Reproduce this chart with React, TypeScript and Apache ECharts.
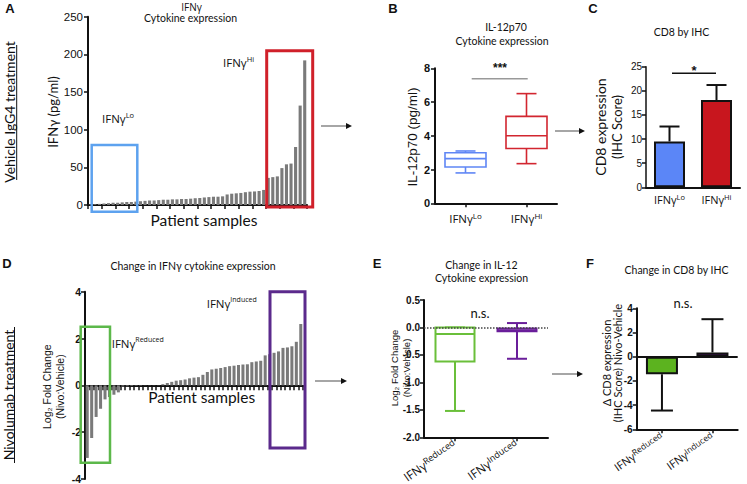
import React, { useEffect, useRef } from 'react';
import * as echarts from 'echarts';

// Panel A: IFNγ per patient (pg/ml), sorted
const aValues = [0.5, 1, 1.5, 2, 2.5, 3, 3, 3.5, 4, 4, 4.5, 5, 5.5, 6, 6, 6.5, 7, 7, 7.5, 7.5, 8, 8, 8.4, 9, 9.3, 10, 10.5, 11, 11, 11.5, 14, 15, 15.5, 16, 17, 17.7, 18, 18.6, 20, 36, 37, 38, 49, 54, 55, 77, 132, 192];
const aCategories = aValues.map((_, i) => 'P' + (i + 1));

// Panel B: IL-12p70 boxplots [min, q1, median, q3, max]
const bCategories = ['Lo', 'Hi'];
const bBoxLo = [1.8, 2.15, 2.65, 3.0, 3.1];
const bBoxHi = [2.35, 3.25, 4.0, 5.15, 6.5];

// Panel C: CD8 by IHC
const cCategories = ['Lo', 'Hi'];
const cMeans = [9.5, 18.1];
const cErrTop = [12.6, 21.2];

// Panel D: Log2 fold change per patient
const dValues = [-3.1, -2.25, -1.35, -1.0, -0.6, -0.5, -0.4, -0.3, -0.05, -0.04, -0.03, -0.02, -0.02, -0.01, -0.01, -0.01, -0.01,
  0.05, 0.1, 0.15, 0.2, 0.22, 0.25, 0.3, 0.33, 0.35, 0.45, 0.57, 0.68, 0.71, 0.74, 0.78, 0.82, 0.84, 0.87, 0.89, 0.9, 0.99, 1.02, 1.05, 1.28, 1.33, 1.39, 1.45, 1.6, 1.62, 1.67, 1.86, 2.62];
const dCategories = dValues.map((_, i) => 'S' + (i + 1));

// Panel E: IL-12 change boxplots [min, q1, median, q3, max]
const eCategories = ['Reduced', 'Induced'];
const eBoxReduced = [-1.52, -0.62, -0.12, 0, 0];
const eBoxInduced = [-0.57, -0.07, -0.05, -0.02, 0.08];

// Panel F: change in CD8
const fCategories = ['Reduced', 'Induced'];
const fMeans = [-1.45, 0.35];
const fErrEnd = [-4.45, 3.1];

const TICK_FONT = 'Liberation Sans';
const TEXT_FONT = 'Lato';
const GREEK_FONT = 'Open Sans';

function boxRender(colors: string[], boxW: number, capW: number, lw: number) {
  return (params: any, api: any) => {
    const i = api.value(0);
    const mn = api.coord([i, api.value(1)]);
    const q1 = api.coord([i, api.value(2)]);
    const md = api.coord([i, api.value(3)]);
    const q3 = api.coord([i, api.value(4)]);
    const mx = api.coord([i, api.value(5)]);
    const x = mn[0];
    const c = colors[params.dataIndex];
    const st = { stroke: c, lineWidth: lw, fill: 'none' };
    return {
      type: 'group',
      children: [
        { type: 'line', shape: { x1: x, y1: q3[1], x2: x, y2: mx[1] }, style: st },
        { type: 'line', shape: { x1: x, y1: q1[1], x2: x, y2: mn[1] }, style: st },
        { type: 'line', shape: { x1: x - capW / 2, y1: mx[1], x2: x + capW / 2, y2: mx[1] }, style: st },
        { type: 'line', shape: { x1: x - capW / 2, y1: mn[1], x2: x + capW / 2, y2: mn[1] }, style: st },
        { type: 'rect', shape: { x: x - boxW / 2, y: q3[1], width: boxW, height: q1[1] - q3[1] }, style: { stroke: c, lineWidth: lw, fill: '#fff' } },
        { type: 'line', shape: { x1: x - boxW / 2, y1: md[1], x2: x + boxW / 2, y2: md[1] }, style: st },
      ],
    };
  };
}

function errRender(capW: number) {
  return (params: any, api: any) => {
    const i = api.value(0);
    const a = api.coord([i, api.value(1)]);
    const b = api.coord([i, api.value(2)]);
    const st = { stroke: '#111', lineWidth: 2, fill: 'none' };
    return {
      type: 'group',
      children: [
        { type: 'line', shape: { x1: a[0], y1: a[1], x2: b[0], y2: b[1] }, style: st },
        { type: 'line', shape: { x1: b[0] - capW / 2, y1: b[1], x2: b[0] + capW / 2, y2: b[1] }, style: st },
      ],
    };
  };
}

const supRich = (size: number, sup: number) => ({
  m: { fontSize: size, fontFamily: GREEK_FONT, color: '#111', fill: '#111', lineHeight: size + 2 },
  s: { fontSize: sup, fontFamily: GREEK_FONT, color: '#111', fill: '#111', verticalAlign: 'top', lineHeight: sup + 1 },
});

function axisBase(extra: any = {}) {
  return {
    axisLine: { show: true, onZero: false, lineStyle: { color: '#111', width: 2 } },
    axisTick: { show: true, length: 4, lineStyle: { color: '#111', width: 1.5 } },
    splitLine: { show: false },
    ...extra,
  };
}

function txt(x: number, y: number, text: string, size: number, opts: any = {}) {
  return {
    type: 'text', x, y, rotation: opts.rotation || 0, z: 100,
    style: {
      text, fontSize: size, fontFamily: opts.font || TEXT_FONT, fontWeight: opts.weight || 'normal',
      fill: opts.color || '#111', align: opts.align || 'center', verticalAlign: 'middle',
      rich: opts.rich,
    },
  };
}

function arrow(x1: number, x2: number, y: number) {
  return [
    { type: 'line', z: 100, shape: { x1, y1: y, x2: x2 - 3, y2: y }, style: { stroke: '#888', lineWidth: 1.5 } },
    { type: 'polygon', z: 100, shape: { points: [[x2 - 6, y - 3], [x2, y], [x2 - 6, y + 3]] }, style: { fill: '#111' } },
  ];
}

function rectBox(x: number, y: number, w: number, h: number, color: string, lw: number) {
  return { type: 'rect', z: 100, shape: { x, y, width: w, height: h }, style: { fill: 'none', stroke: color, lineWidth: lw } };
}

export default function App() {
  const ref = useRef<HTMLDivElement>(null);
  useEffect(() => {
    if (!ref.current) return;
    const chart = echarts.init(ref.current, undefined, { renderer: 'svg' });
    const supLabel = (v: string) => `{m|IFNγ}{s|${v}}`;
    const tickStyle = { show: true, alignWithLabel: true, length: 4, lineStyle: { color: '#111', width: 1.5 } };

    const option: any = {
      animation: false,
      backgroundColor: '#fff',
      grid: [
        { left: 88, top: 16.7, width: 219, height: 188.3, outerBoundsMode: 'none' },
        { left: 435, top: 68.3, width: 122, height: 135, outerBoundsMode: 'none' },
        { left: 646, top: 66.7, width: 94, height: 120.6, outerBoundsMode: 'none' },
        { left: 85, top: 291.7, width: 218, height: 187.3, outerBoundsMode: 'none' },
        { left: 424, top: 300, width: 124, height: 137.3, outerBoundsMode: 'none' },
        { left: 636.7, top: 308.3, width: 101, height: 121, outerBoundsMode: 'none' },
      ],
      xAxis: [
        { type: 'category', gridIndex: 0, data: aCategories, ...axisBase({ axisLabel: { show: false }, axisTick: { show: true, interval: 2, length: 4, lineStyle: { color: '#111', width: 1.5 } } }) },
        { type: 'category', gridIndex: 1, data: bCategories, ...axisBase({ axisTick: tickStyle, axisLabel: { color: '#111', interval: 0, margin: 8, formatter: supLabel, rich: supRich(11.5, 8) } }) },
        { type: 'category', gridIndex: 2, data: cCategories, ...axisBase({ axisTick: { show: false }, axisLabel: { color: '#111', interval: 0, margin: 6, formatter: supLabel, rich: supRich(11, 7.5) } }) },
        { type: 'category', gridIndex: 3, data: dCategories, ...axisBase({ axisLine: { show: true, onZero: true, lineStyle: { color: '#111', width: 2 } }, axisTick: { show: true, interval: 0, length: 5, lineStyle: { color: '#111', width: 1.5 } }, axisLabel: { show: false } }) },
        { type: 'category', gridIndex: 4, data: eCategories, ...axisBase({ axisTick: tickStyle, axisLabel: { color: '#111', interval: 0, rotate: 35, margin: 6, formatter: supLabel, rich: supRich(12, 9) } }) },
        { type: 'category', gridIndex: 5, data: fCategories, ...axisBase({ axisTick: tickStyle, axisLabel: { color: '#111', interval: 0, rotate: 35, margin: 6, formatter: supLabel, rich: supRich(11, 8.5) } }) },
      ],
      yAxis: [
        { type: 'value', gridIndex: 0, min: 0, max: 250, interval: 50, ...axisBase({ axisLabel: { fontSize: 11.5, fontFamily: TICK_FONT, color: '#111', margin: 5 } }) },
        { type: 'value', gridIndex: 1, min: 0, max: 8, interval: 2, ...axisBase({ axisLabel: { fontSize: 11, fontWeight: 'bold', fontFamily: TICK_FONT, color: '#111', margin: 5 } }) },
        { type: 'value', gridIndex: 2, min: 0, max: 25, interval: 5, ...axisBase({ axisLine: { show: true, onZero: false, lineStyle: { color: '#111', width: 1.5 } }, axisLabel: { fontSize: 10, fontFamily: TICK_FONT, color: '#111', margin: 4 } }) },
        { type: 'value', gridIndex: 3, min: -4, max: 4, interval: 2, ...axisBase({ axisLabel: { fontSize: 10.5, fontWeight: 'bold', fontFamily: TICK_FONT, color: '#111', margin: 4 } }) },
        { type: 'value', gridIndex: 4, min: -2, max: 0.5, interval: 0.5, ...axisBase({ axisLabel: { fontSize: 10, fontWeight: 'bold', fontFamily: TICK_FONT, color: '#111', margin: 4, formatter: (v: number) => v.toFixed(1) } }) },
        { type: 'value', gridIndex: 5, min: -6, max: 4, interval: 2, ...axisBase({ axisLabel: { fontSize: 10, fontWeight: 'bold', fontFamily: TICK_FONT, color: '#111', margin: 4 } }) },
      ],
      series: [
        { type: 'bar', xAxisIndex: 0, yAxisIndex: 0, data: aValues, itemStyle: { color: '#7a7a7a' }, barCategoryGap: '32%' },
        {
          type: 'custom', xAxisIndex: 1, yAxisIndex: 1, renderItem: boxRender(['#5f86f5', '#d22630'], 41, 20, 1.6),
          data: [[0, ...bBoxLo], [1, ...bBoxHi]], encode: { x: 0, y: [1, 2, 3, 4, 5] },
        },
        {
          type: 'bar', xAxisIndex: 2, yAxisIndex: 2, barWidth: 31,
          data: cMeans.map((v, i) => ({ value: v, itemStyle: { color: ['#5b86f7', '#c8161e'][i] } })),
          itemStyle: { borderColor: '#111', borderWidth: 2 },
        },
        {
          type: 'custom', xAxisIndex: 2, yAxisIndex: 2, renderItem: errRender(20), z: 1,
          data: cMeans.map((v, i) => [i, v, cErrTop[i]]), encode: { x: 0, y: [1, 2] },
        },
        { type: 'bar', xAxisIndex: 3, yAxisIndex: 3, data: dValues, itemStyle: { color: '#7a7a7a' }, barCategoryGap: '32%' },
        {
          type: 'custom', xAxisIndex: 4, yAxisIndex: 4, renderItem: boxRender(['#6abf3a', '#6a1e9a'], 39, 20, 2),
          data: [[0, ...eBoxReduced], [1, ...eBoxInduced]], encode: { x: 0, y: [1, 2, 3, 4, 5] },
          markLine: { silent: true, symbol: 'none', label: { show: false }, lineStyle: { type: 'dotted', color: '#444', width: 1.5 }, data: [{ yAxis: 0 }] },
        },
        {
          type: 'bar', xAxisIndex: 5, yAxisIndex: 5, barWidth: 32,
          data: fMeans.map((v, i) => ({ value: v, itemStyle: { color: ['#5cb31f', '#6b1290'][i] } })),
          itemStyle: { borderColor: '#111', borderWidth: 2 },
          markLine: { silent: true, symbol: 'none', label: { show: false }, lineStyle: { type: 'solid', color: '#111', width: 2 }, data: [{ yAxis: 0 }] },
        },
        {
          type: 'custom', xAxisIndex: 5, yAxisIndex: 5, renderItem: errRender(22), z: 1,
          data: fMeans.map((v, i) => [i, v, fErrEnd[i]]), encode: { x: 0, y: [1, 2] },
        },
      ],
      graphic: [
        // panel letters
        txt(10, 8, 'A', 13, { font: TICK_FONT, weight: 'bold' }),
        txt(393, 8, 'B', 13, { font: TICK_FONT, weight: 'bold' }),
        txt(593, 8, 'C', 13, { font: TICK_FONT, weight: 'bold' }),
        txt(7, 263, 'D', 13, { font: TICK_FONT, weight: 'bold' }),
        txt(377, 263, 'E', 13, { font: TICK_FONT, weight: 'bold' }),
        txt(590, 263, 'F', 13, { font: TICK_FONT, weight: 'bold' }),
        // row labels
        txt(9.5, 112, 'Vehicle IgG4 treatment', 14, { rotation: Math.PI / 2 }),
        { type: 'line', z: 100, shape: { x1: 16.7, y1: 45, x2: 16.7, y2: 180 }, style: { stroke: '#111', lineWidth: 1 } },
        txt(8.5, 395, 'Nivolumab treatment', 14, { rotation: Math.PI / 2 }),
        { type: 'line', z: 100, shape: { x1: 14.5, y1: 327, x2: 14.5, y2: 463 }, style: { stroke: '#111', lineWidth: 1 } },
        // titles
        txt(191.5, 6.5, 'IFNγ', 10, { font: GREEK_FONT }),
        txt(190.5, 18, 'Cytokine expression', 10.5),
        txt(506, 27, 'IL-12p70', 10.5),
        txt(502, 41, 'Cytokine expression', 10.5),
        txt(681.5, 32, 'CD8 by IHC', 10.5),
        txt(193, 266, 'Change in IFNγ cytokine expression', 10.5),
        txt(481.5, 264.5, 'Change in IL-12', 10.5),
        txt(481.5, 277.5, 'Cytokine expression', 10.5),
        txt(676.5, 270, 'Change in CD8 by IHC', 10.5),
        // axis titles
        txt(53, 112, 'IFNγ (pg/ml)', 13, { rotation: Math.PI / 2 }),
        txt(204, 219.5, 'Patient samples', 15.5),
        txt(412, 137, 'IL-12p70 (pg/ml)', 13.5, { rotation: Math.PI / 2, font: TICK_FONT }),
        txt(600, 127, 'CD8 expression', 14, { rotation: Math.PI / 2 }),
        txt(617, 127, '(IHC Score)', 13, { rotation: Math.PI / 2 }),
        txt(46.5, 386.7, 'Log₂ Fold Change', 10.5, { rotation: Math.PI / 2, font: TICK_FONT }),
        txt(60, 386.7, '(Nivo:Vehicle)', 10.5, { rotation: Math.PI / 2, font: TICK_FONT }),
        txt(201.7, 397, 'Patient samples', 15.5),
        txt(394, 368, 'Log₂ Fold Change', 9.5, { rotation: Math.PI / 2, font: TICK_FONT }),
        txt(406, 368, '(Nivo:Vehicle)', 9.5, { rotation: Math.PI / 2, font: TICK_FONT }),
        txt(606.7, 363, 'Δ CD8 expression', 11, { rotation: Math.PI / 2 }),
        txt(617.3, 363, '(IHC Score) Nivo-Vehicle', 11, { rotation: Math.PI / 2 }),
        // group labels
        txt(102, 118, '{m|IFNγ}{s|Lo}', 11.5, { align: 'left', rich: supRich(11.5, 7.5) }),
        txt(223, 62, '{m|IFNγ}{s|Hi}', 11.5, { align: 'left', rich: supRich(11.5, 7.5) }),
        txt(111.7, 343, '{m|IFNγ}{s|Reduced}', 11.5, { align: 'left', rich: supRich(11.5, 7) }),
        txt(206.7, 303, '{m|IFNγ}{s|Induced}', 11.5, { align: 'left', rich: supRich(11.5, 7) }),
        // significance
        { type: 'line', z: 100, shape: { x1: 471.7, y1: 78.7, x2: 527.7, y2: 78.7 }, style: { stroke: '#999', lineWidth: 1.5 } },
        txt(500, 68, '***', 12, { font: TICK_FONT, weight: 'bold' }),
        { type: 'line', z: 100, shape: { x1: 672, y1: 73.3, x2: 716, y2: 73.3 }, style: { stroke: '#111', lineWidth: 1.5 } },
        txt(694, 70, '*', 13, { font: TICK_FONT, weight: 'bold' }),
        txt(480, 313, 'n.s.', 13),
        txt(683, 303, 'n.s.', 13),
        // selection boxes
        rectBox(91.7, 145, 45.6, 66.7, '#5da2ef', 2.5),
        rectBox(266.7, 50.7, 46, 156.3, '#d0202a', 3),
        rectBox(80.7, 326.7, 29.3, 136, '#5cb84a', 2.5),
        rectBox(270, 291.7, 35, 156.3, '#5b2a8c', 3),
        // arrows
        ...arrow(321, 352, 126),
        ...arrow(555, 585, 131),
        ...arrow(315, 347, 381),
        ...arrow(552, 583, 374),
      ],
    };
    chart.setOption(option);
    return () => chart.dispose();
  }, []);
  return <div ref={ref} style={{ position: 'absolute', left: 0, top: 0, width: 747, height: 484 }} />;
}
